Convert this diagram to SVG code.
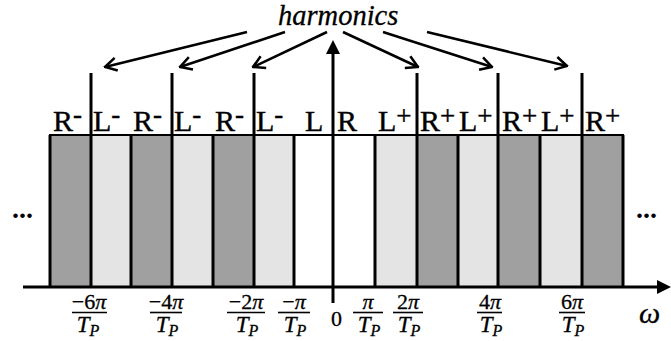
<svg xmlns="http://www.w3.org/2000/svg" width="671" height="341" viewBox="0 0 671 341">
<defs>
<style>
.dk{fill:#a0a0a0}
.lt{fill:#e4e4e4}
.sep{stroke:#000;stroke-width:3}
.ln{stroke:#000;stroke-width:3;fill:none}
.arr{stroke:#000;stroke-width:2.5;fill:none;marker-end:url(#vhead)}
.lab{font-family:"Liberation Serif",serif;font-size:30px;fill:#000;stroke:#000;stroke-width:0.4}
.sup{font-size:27px}
.num{font-family:"Liberation Serif",serif;font-size:22px;fill:#000;text-anchor:middle;stroke:#000;stroke-width:0.3}
.den{font-family:"Liberation Serif",serif;font-size:23px;font-style:italic;fill:#000;text-anchor:middle;stroke:#000;stroke-width:0.3}
.sub{font-size:16px}
.fb{stroke:#000;stroke-width:1.6}
</style>
<marker id="vhead" viewBox="0 0 14 16" refX="12.5" refY="8" markerWidth="14" markerHeight="16" markerUnits="userSpaceOnUse" orient="auto">
<path d="M1,1.5 L12.5,8 L1,14.5" fill="none" stroke="#000" stroke-width="2.5"/>
</marker>
</defs>
<rect width="671" height="341" fill="#fff"/>

<g id="bands">
<rect class="dk" x="50" y="135" width="41" height="152"/>
<rect class="lt" x="91" y="135" width="40" height="152"/>
<rect class="dk" x="131" y="135" width="41" height="152"/>
<rect class="lt" x="172" y="135" width="41" height="152"/>
<rect class="dk" x="213" y="135" width="41" height="152"/>
<rect class="lt" x="254" y="135" width="40" height="152"/>
<rect class="lt" x="375" y="135" width="42" height="152"/>
<rect class="dk" x="417" y="135" width="41" height="152"/>
<rect class="lt" x="458" y="135" width="40" height="152"/>
<rect class="dk" x="498" y="135" width="42" height="152"/>
<rect class="lt" x="540" y="135" width="42" height="152"/>
<rect class="dk" x="582" y="135" width="41" height="152"/>
<line x1="49" y1="135" x2="624" y2="135" stroke="#000" stroke-width="2"/>
<line class="sep" x1="50" y1="135" x2="50" y2="287"/>
<line class="sep" x1="131" y1="135" x2="131" y2="287"/>
<line class="sep" x1="213" y1="135" x2="213" y2="287"/>
<line class="sep" x1="294" y1="135" x2="294" y2="287"/>
<line class="sep" x1="375" y1="135" x2="375" y2="287"/>
<line class="sep" x1="458" y1="135" x2="458" y2="287"/>
<line class="sep" x1="540" y1="135" x2="540" y2="287"/>
<line class="sep" x1="623" y1="135" x2="623" y2="287"/>
</g>

<g id="harmonic-lines">
<line class="sep" x1="91" y1="73" x2="91" y2="287"/>
<line class="sep" x1="172" y1="73" x2="172" y2="287"/>
<line class="sep" x1="254" y1="73" x2="254" y2="287"/>
<line class="sep" x1="417" y1="73" x2="417" y2="287"/>
<line class="sep" x1="498" y1="73" x2="498" y2="287"/>
<line class="sep" x1="582" y1="73" x2="582" y2="287"/>
</g>

<g id="axes">
<line class="ln" x1="23" y1="287" x2="660" y2="287"/>
<polygon points="671,287 657,280 657,294" fill="#000"/>
<line class="ln" x1="333" y1="50" x2="333" y2="303"/>
<polygon points="333,40 326,54 340,54" fill="#000"/>
</g>

<g id="band-labels" class="lab">
<text x="53" y="131">R<tspan class="sup" dy="-8">-</tspan></text>
<text x="93" y="131">L<tspan class="sup" dy="-8">-</tspan></text>
<text x="133" y="131">R<tspan class="sup" dy="-8">-</tspan></text>
<text x="174" y="131">L<tspan class="sup" dy="-8">-</tspan></text>
<text x="215" y="131">R<tspan class="sup" dy="-8">-</tspan></text>
<text x="256" y="131">L<tspan class="sup" dy="-8">-</tspan></text>
<text x="305" y="131">L</text>
<text x="337" y="131">R</text>
<text x="378" y="131">L<tspan class="sup" dy="-6">+</tspan></text>
<text x="420" y="131">R<tspan class="sup" dy="-6">+</tspan></text>
<text x="459" y="131">L<tspan class="sup" dy="-6">+</tspan></text>
<text x="502" y="131">R<tspan class="sup" dy="-6">+</tspan></text>
<text x="541" y="131">L<tspan class="sup" dy="-6">+</tspan></text>
<text x="585" y="131">R<tspan class="sup" dy="-6">+</tspan></text>
</g>

<g id="harmonics">
<text x="278" y="25" font-family="Liberation Serif, serif" font-size="28.5" font-style="italic" stroke="#000" stroke-width="0.3">harmonics</text>
</g>

<g id="connectors">
<line class="arr" x1="247" y1="32" x2="105" y2="67"/>
<line class="arr" x1="285" y1="32" x2="180" y2="67"/>
<line class="arr" x1="327" y1="32" x2="253" y2="67"/>
<line class="arr" x1="343" y1="32" x2="418" y2="67"/>
<line class="arr" x1="383" y1="32" x2="492" y2="67"/>
<line class="arr" x1="427" y1="32" x2="567" y2="66"/>
</g>

<g id="dots" font-family="Liberation Serif, serif" font-size="28" font-weight="bold">
<text x="12" y="218">...</text>
<text x="636" y="218">...</text>
</g>

<g id="tick-labels">
<g id="t-6"><text class="num" x="89" y="309">−6<tspan font-style="italic">π</tspan></text><line class="fb" x1="72" y1="312.5" x2="107" y2="312.5"/><text class="den" x="88" y="332">T<tspan class="sub" dy="4">P</tspan></text></g>
<g id="t-4"><text class="num" x="166" y="309">−4<tspan font-style="italic">π</tspan></text><line class="fb" x1="150" y1="312.5" x2="182" y2="312.5"/><text class="den" x="167" y="332">T<tspan class="sub" dy="4">P</tspan></text></g>
<g id="t-2"><text class="num" x="246" y="309">−2<tspan font-style="italic">π</tspan></text><line class="fb" x1="227" y1="312.5" x2="265" y2="312.5"/><text class="den" x="247" y="332">T<tspan class="sub" dy="4">P</tspan></text></g>
<g id="t-1"><text class="num" x="294" y="309">−<tspan font-style="italic">π</tspan></text><line class="fb" x1="278" y1="312.5" x2="310" y2="312.5"/><text class="den" x="295" y="332">T<tspan class="sub" dy="4">P</tspan></text></g>
<g id="t0"><text x="331" y="326" font-family="Liberation Serif, serif" font-size="22" stroke="#000" stroke-width="0.3">0</text></g>
<g id="t1"><text class="num" x="368" y="309"><tspan font-style="italic">π</tspan></text><line class="fb" x1="353" y1="312.5" x2="383" y2="312.5"/><text class="den" x="369" y="332">T<tspan class="sub" dy="4">P</tspan></text></g>
<g id="t2"><text class="num" x="408" y="309">2<tspan font-style="italic">π</tspan></text><line class="fb" x1="393" y1="312.5" x2="423" y2="312.5"/><text class="den" x="409" y="332">T<tspan class="sub" dy="4">P</tspan></text></g>
<g id="t4"><text class="num" x="490" y="309">4<tspan font-style="italic">π</tspan></text><line class="fb" x1="477" y1="312.5" x2="502" y2="312.5"/><text class="den" x="491" y="332">T<tspan class="sub" dy="4">P</tspan></text></g>
<g id="t6"><text class="num" x="572" y="309">6<tspan font-style="italic">π</tspan></text><line class="fb" x1="559" y1="312.5" x2="585" y2="312.5"/><text class="den" x="573" y="332">T<tspan class="sub" dy="4">P</tspan></text></g>
<g id="omega"><text x="639" y="323" font-family="Liberation Serif, serif" font-size="30" font-style="italic" stroke="#000" stroke-width="0.3">ω</text></g>
</g>
</svg>
